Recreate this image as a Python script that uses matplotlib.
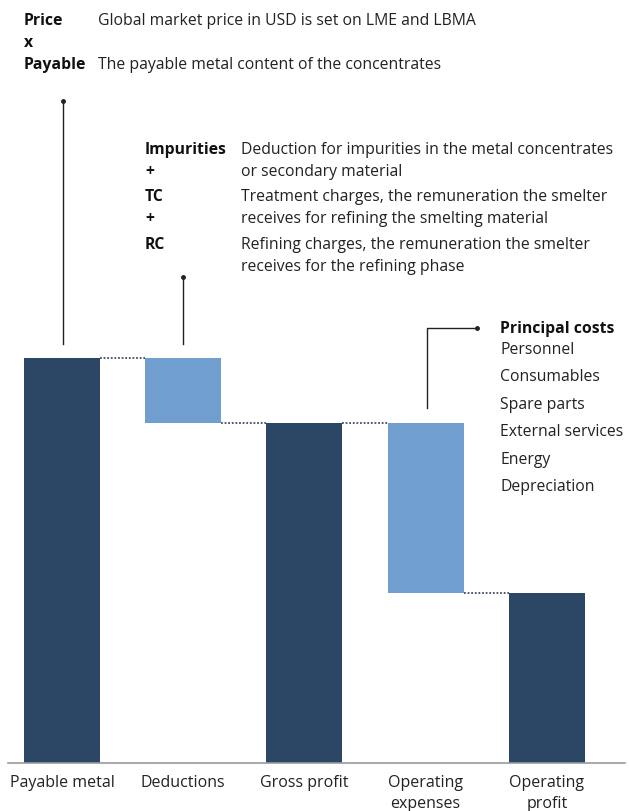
import matplotlib.pyplot as plt

plt.rcParams['font.family'] = ['Open Sans', 'DejaVu Sans']

categories = ['Payable metal', 'Deductions', 'Gross profit', 'Operating\nexpenses', 'Operating\nprofit']
values = [100, -16, 84, -42, 42]
is_total = [True, False, True, False, True]

price_terms = ['Price', 'x', 'Payable']
price_desc = ['Global market price in USD is set on LME and LBMA', '',
              'The payable metal content of the concentrates']
deduction_terms = ['Impurities', '+', 'TC', '+', 'RC']
deduction_desc = ['Deduction for impurities in the metal concentrates',
                  'or secondary material',
                  'Treatment charges, the remuneration the smelter',
                  'receives for refining the smelting material',
                  'Refining charges, the remuneration the smelter',
                  'receives for the refining phase']
cost_items = ['Personnel', 'Consumables', 'Spare parts', 'External services', 'Energy', 'Depreciation']

dark = '#2c4766'
light = '#709fcf'
W, H = 629, 812
fs = 11.3

fig = plt.figure(figsize=(W / 100, H / 100), dpi=100)
ax = fig.add_axes([0, 0, 1, 1])
px_x = 121.2  # pixels per category
px_y = 4.05   # pixels per value unit
x0, base = 62, 764
ax.set_xlim(-x0 / px_x, (W - x0) / px_x)
ax.set_ylim(-(H - base) / px_y, base / px_y)
ax.axis('off')

# waterfall bars
bw = 0.627
level = 0
tops = []
for i, (v, tot) in enumerate(zip(values, is_total)):
    if tot:
        ax.bar(i, v, width=bw, bottom=0, color=dark)
        level = v
        tops.append((level, level))
    else:
        ax.bar(i, v, width=bw, bottom=level, color=light)
        tops.append((level, level + v))
        level = level + v

# dotted connectors
for i in range(len(values) - 1):
    y = tops[i][1]
    ax.plot([i + bw / 2, i + 1 - bw / 2], [y, y], ls=(0, (1, 1)),
            color='#3e4e66', lw=1.3)

# baseline
ax.plot([-x0 / px_x + 8 / px_x, (625 - x0) / px_x], [0, 0], color='#9a9a9a', lw=1.2)

# category labels
for i, c in enumerate(categories):
    ax.text(i, -(775 - base) / px_y, c, ha='center', va='top', fontsize=11.5,
            color='#222222', linespacing=1.38)


def fx(px):
    return px / W


def fy(py):
    return 1 - py / H


# top annotation
for t, d, py in zip(price_terms, price_desc, [21, 43, 65]):
    fig.text(fx(24), fy(py), t, fontsize=fs, fontweight='bold', va='center', color='#111111')
    if d:
        fig.text(fx(98), fy(py), d, fontsize=fs, va='center', color='#222222')

# deductions annotation
for t, py in zip(deduction_terms, [150, 172, 197, 219, 245]):
    fig.text(fx(145), fy(py), t, fontsize=fs, fontweight='bold', va='center', color='#111111')
for d, py in zip(deduction_desc, [150, 172, 197, 219, 245, 267]):
    fig.text(fx(241), fy(py), d, fontsize=fs, va='center', color='#222222')

# principal costs
fig.text(fx(500), fy(329), 'Principal costs', fontsize=fs, fontweight='bold', va='center', color='#111111')
for k, item in enumerate(cost_items):
    fig.text(fx(500), fy(350 + 27.4 * k), item, fontsize=fs, va='center', color='#222222')

# leader lines
fig.add_artist(plt.Line2D([fx(63), fx(63)], [fy(102), fy(345)], color='#222222', lw=1))
fig.add_artist(plt.Line2D([fx(63)], [fy(102)], marker='o', ms=2.5, color='#222222'))
fig.add_artist(plt.Line2D([fx(183), fx(183)], [fy(278), fy(345)], color='#222222', lw=1))
fig.add_artist(plt.Line2D([fx(183)], [fy(278)], marker='o', ms=2.5, color='#222222'))
fig.add_artist(plt.Line2D([fx(427), fx(427), fx(477)], [fy(409), fy(329), fy(329)],
                          color='#222222', lw=1))
fig.add_artist(plt.Line2D([fx(477)], [fy(329)], marker='o', ms=2.5, color='#222222'))

fig.savefig('out.png', dpi=100)
